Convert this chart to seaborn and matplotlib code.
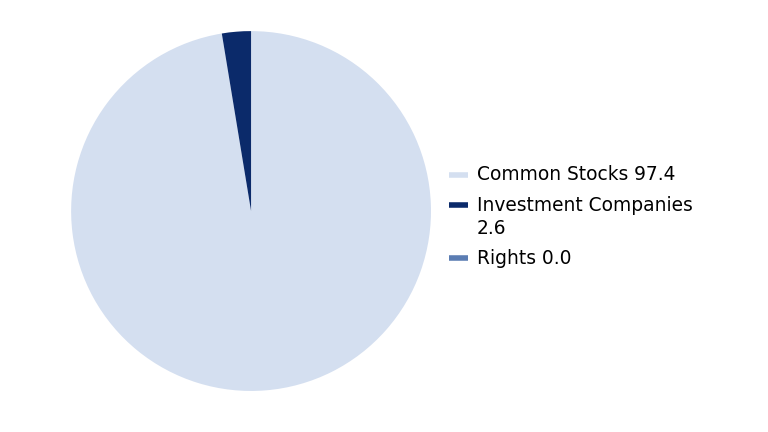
import matplotlib
matplotlib.use("Agg")
import matplotlib.pyplot as plt
import seaborn as sns
from matplotlib.lines import Line2D

categories = ["Common Stocks", "Investment Companies", "Rights"]
values = [97.4, 2.6, 0.0]
legend_labels = ["Common Stocks 97.4", "Investment Companies\n2.6", "Rights 0.0"]
colors = ["#D4DFF0", "#0B2A6A", "#5B7DB3"]

sns.set_style("white")
plt.rcParams["font.family"] = ["DejaVu Sans"]

W, H = 768, 432
fig = plt.figure(figsize=(W / 100, H / 100), dpi=100)
ax = fig.add_axes([0.0924, 0.095, 0.469, 0.833])
ax.pie(values, colors=colors, startangle=90, counterclock=False,
       wedgeprops=dict(linewidth=0))
ax.set_xlim(-1, 1)
ax.set_ylim(-1, 1)
ax.set_aspect("equal")
ax.axis("off")

# legend drawn by hand so the swatch lines up with the first text line
y = 174.5
line_h = 23
gap = 7
for label, c in zip(legend_labels, colors):
    fy = 1 - y / H
    fig.add_artist(Line2D([449 / W, 468 / W], [fy, fy], color=c, lw=4,
                          solid_capstyle="butt", transform=fig.transFigure))
    lines = label.split("\n")
    for i, part in enumerate(lines):
        fig.text(477 / W, 1 - (y + 6 + i * line_h) / H, part, fontsize=13.4,
                 color="black", va="baseline", ha="left")
    y += len(lines) * line_h + gap

fig.savefig("out.png", dpi=100)
